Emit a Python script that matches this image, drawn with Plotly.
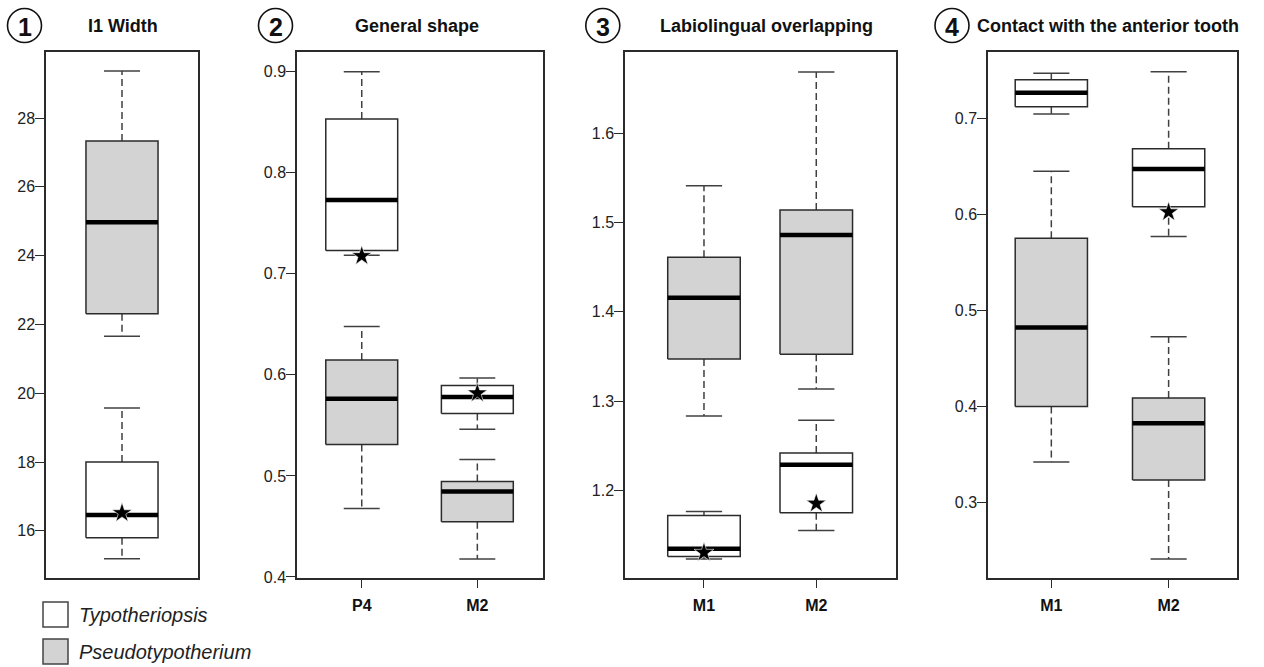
import plotly.graph_objects as go

W, H = 1264, 667
FONT = "Liberation Sans, Arial, sans-serif"

# ---------------- data ----------------
panel_titles = ["I1 Width", "General shape", "Labiolingual overlapping", "Contact with the anterior tooth"]
panel_numbers = ["1", "2", "3", "4"]
categories = [[""], ["P4", "M2"], ["M1", "M2"], ["M1", "M2"]]
series_names = ["Typotheriopsis", "Pseudotypotherium"]

# Typotheriopsis (white boxes): per panel, per category
typo_low = [[15.19], [0.7184, 0.5462], [1.1232, 1.1551], [0.7045, 0.5771]]
typo_q1 = [[15.80], [0.7230, 0.5617], [1.1260, 1.1751], [0.7120, 0.6079]]
typo_med = [[16.46], [0.7731, 0.5782], [1.1347, 1.2288], [0.7267, 0.6473]]
typo_q3 = [[18.00], [0.8532, 0.5894], [1.1720, 1.2419], [0.7402, 0.6684]]
typo_high = [[19.57], [0.9000, 0.5970], [1.1766, 1.2786], [0.7468, 0.7485]]
# star (specimen) values, None when absent
star_vals = [[16.52], [0.7177, 0.5819], [1.1305, 1.1855], [None, 0.6024]]

# Pseudotypotherium (grey boxes)
pseudo_low = [[21.66], [0.4678, 0.4178], [1.2834, 1.3137], [0.3424, 0.2414]]
pseudo_q1 = [[22.31], [0.5311, 0.4547], [1.3473, 1.3525], [0.4000, 0.3236]]
pseudo_med = [[24.97], [0.5763, 0.4845], [1.4159, 1.4861], [0.4823, 0.3826]]
pseudo_q3 = [[27.33], [0.6148, 0.4944], [1.4611, 1.5141], [0.5753, 0.4090]]
pseudo_high = [[29.37], [0.6478, 0.5162], [1.5413, 1.6686], [0.6450, 0.4726]]

y_ticks = [[16, 18, 20, 22, 24, 26, 28],
           [0.4, 0.5, 0.6, 0.7, 0.8, 0.9],
           [1.2, 1.3, 1.4, 1.5, 1.6],
           [0.3, 0.4, 0.5, 0.6, 0.7]]
y_tick_labels = [["16", "18", "20", "22", "24", "26", "28"],
                 ["0.4", "0.5", "0.6", "0.7", "0.8", "0.9"],
                 ["1.2", "1.3", "1.4", "1.5", "1.6"],
                 ["0.3", "0.4", "0.5", "0.6", "0.7"]]

# ---------------- layout / style ----------------
frames_px = [(46, 198), (297, 543), (625, 896), (988, 1237)]
frame_top, frame_bot = 52, 578
y_ranges = [[14.63, 29.92], [0.399, 0.9195], [1.102, 1.691], [0.2216, 0.769]]
x_ranges = [[0.46, 1.54], [0.44, 2.568], [0.2966, 2.71], [0.46, 2.583]]
half_w = [0.256, 0.311, 0.323, 0.308]

WHITE = "#ffffff"
GREY = "#d3d3d3"
EDGE = "#2b2b2b"
WHISK = "#404040"


def px(x):
    return x / W


def py(y):
    return 1 - y / H


fig = go.Figure()


def ax_name(i, kind):
    return kind + ("" if i == 0 else str(i + 1))


def add_box(i, c, lo, q1, med, q3, hi, fill):
    xa, ya = ax_name(i, "x"), ax_name(i, "y")
    w = half_w[i]
    # whiskers (dashed)
    fig.add_trace(go.Scatter(x=[c, c, None, c, c], y=[q3, hi, None, q1, lo], mode="lines",
                             line=dict(color=WHISK, width=1.5, dash="7px,4px"),
                             xaxis=xa, yaxis=ya, showlegend=False, hoverinfo="skip"))
    # caps
    fig.add_trace(go.Scatter(x=[c - w / 2, c + w / 2, None, c - w / 2, c + w / 2],
                             y=[hi, hi, None, lo, lo], mode="lines",
                             line=dict(color=WHISK, width=1.5),
                             xaxis=xa, yaxis=ya, showlegend=False, hoverinfo="skip"))
    # box
    fig.add_trace(go.Scatter(x=[c - w, c + w, c + w, c - w, c - w], y=[q1, q1, q3, q3, q1],
                             mode="lines", fill="toself", fillcolor=fill,
                             line=dict(color=EDGE, width=1.5),
                             xaxis=xa, yaxis=ya, showlegend=False, hoverinfo="skip"))
    # median
    fig.add_trace(go.Scatter(x=[c - w, c + w], y=[med, med], mode="lines",
                             line=dict(color="#000000", width=4.5),
                             xaxis=xa, yaxis=ya, showlegend=False, hoverinfo="skip"))


for i in range(4):
    for j, cat in enumerate(categories[i]):
        c = j + 1
        add_box(i, c, pseudo_low[i][j], pseudo_q1[i][j], pseudo_med[i][j], pseudo_q3[i][j],
                pseudo_high[i][j], GREY)
        add_box(i, c, typo_low[i][j], typo_q1[i][j], typo_med[i][j], typo_q3[i][j],
                typo_high[i][j], WHITE)
    sx = [j + 1 for j, v in enumerate(star_vals[i]) if v is not None]
    sy = [v for v in star_vals[i] if v is not None]
    fig.add_trace(go.Scatter(x=sx, y=sy, mode="markers",
                             marker=dict(symbol="star", size=15, color="#000000",
                                         line=dict(color="#ffffff", width=0.6)),
                             xaxis=ax_name(i, "x"), yaxis=ax_name(i, "y"),
                             showlegend=False, hoverinfo="skip"))

layout = dict(width=W, height=H, autosize=False, margin=dict(l=0, r=0, t=0, b=0),
              paper_bgcolor="white", plot_bgcolor="white", showlegend=False,
              font=dict(family=FONT, color="#222222"))

ydom = [py(frame_bot), py(frame_top)]
for i in range(4):
    x0, x1 = frames_px[i]
    xkey = "xaxis" if i == 0 else "xaxis%d" % (i + 1)
    ykey = "yaxis" if i == 0 else "yaxis%d" % (i + 1)
    has_cats = categories[i][0] != ""
    layout[xkey] = dict(domain=[px(x0), px(x1)], anchor=ax_name(i, "y"), range=x_ranges[i],
                        showgrid=False, zeroline=False, showline=True, mirror=True,
                        linecolor=EDGE, linewidth=1.5, automargin=False,
                        tickmode="array",
                        tickvals=[j + 1 for j in range(len(categories[i]))] if has_cats else [],
                        ticktext=["<b>%s</b>" % c for c in categories[i]] if has_cats else [],
                        ticks="outside" if has_cats else "", ticklen=8, tickwidth=1.3,
                        tickcolor=EDGE, tickfont=dict(size=16, color="#111111", family=FONT),
                        ticklabelstandoff=4, fixedrange=True)
    layout[ykey] = dict(domain=ydom, anchor=ax_name(i, "x"), range=y_ranges[i],
                        showgrid=False, zeroline=False, showline=True, mirror=True,
                        linecolor=EDGE, linewidth=1.5, automargin=False,
                        tickmode="array", tickvals=y_ticks[i], ticktext=y_tick_labels[i],
                        ticks="outside", ticklen=9, tickwidth=1.3, tickcolor=EDGE,
                        tickfont=dict(size=16, color="#222222", family=FONT),
                        ticklabelstandoff=-3, fixedrange=True)

fig.update_layout(**layout)

# titles and circled numbers
title_cx = [123, 417, 766, 1108]
circle_cx = [24.5, 275.5, 602.8, 952]
shapes = []
annotations = []
for i in range(4):
    annotations.append(dict(x=px(title_cx[i]), y=py(26), xref="paper", yref="paper",
                            text="<b>%s</b>" % panel_titles[i], showarrow=False,
                            xanchor="center", yanchor="middle",
                            font=dict(size=18, color="#111111", family=FONT)))
    r = 17
    cx, cy = circle_cx[i], 25.5
    shapes.append(dict(type="circle", xref="paper", yref="paper",
                       x0=px(cx - r), x1=px(cx + r), y0=py(cy + r), y1=py(cy - r),
                       line=dict(color="#111111", width=1.6), fillcolor="rgba(0,0,0,0)"))
    annotations.append(dict(x=px(cx), y=py(cy + 1), xref="paper", yref="paper",
                            text="<b>%s</b>" % panel_numbers[i], showarrow=False,
                            xanchor="center", yanchor="middle",
                            font=dict(size=25, color="#111111", family=FONT)))

# legend
legend_fill = [WHITE, GREY]
legend_y = [(602, 627), (639, 664)]
for k in range(2):
    ya0, ya1 = legend_y[k]
    shapes.append(dict(type="rect", xref="paper", yref="paper",
                       x0=px(43), x1=px(68), y0=py(ya1), y1=py(ya0),
                       line=dict(color="#444444", width=1.5), fillcolor=legend_fill[k]))
    annotations.append(dict(x=px(77), y=py((ya0 + ya1) / 2), xref="paper", yref="paper",
                            text="<i>%s</i>" % series_names[k], showarrow=False,
                            xanchor="left", yanchor="middle",
                            font=dict(size=20, color="#222222", family=FONT)))

fig.update_layout(shapes=shapes, annotations=annotations)
fig.write_html("out.html", config={"displayModeBar": False},
               post_script="document.body.style.margin='0';document.body.style.overflow='hidden';")
